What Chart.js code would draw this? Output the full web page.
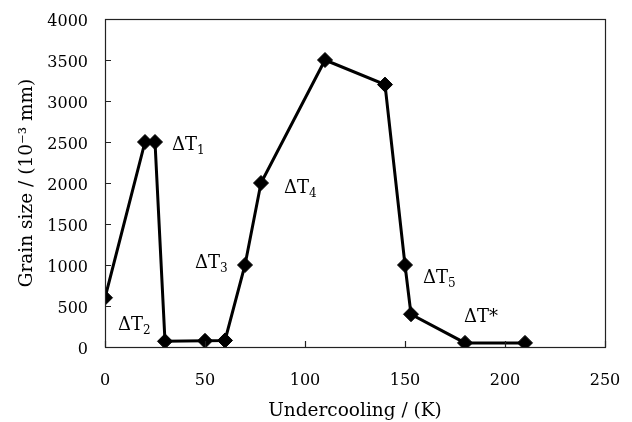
<!DOCTYPE html>
<html lang="en">
<head>
    <meta charset="UTF-8">
    <title>Grain size vs undercooling</title>
    <script src="https://cdn.jsdelivr.net/npm/chart.js"></script>
    <style>
        body { margin: 0; background: #fff; }
        canvas { display: block; }
    </style>
    <script>
        // measured points
        const undercooling = [0, 20, 25, 30, 50, 60, 70, 78, 110, 140, 150, 153, 180, 210];
        const grainSize = [600, 2500, 2500, 70, 75, 80, 1000, 2000, 3500, 3200, 1000, 400, 50, 50];

        // axis ticks
        const xTicks = [0, 50, 100, 150, 200, 250];
        const yTicks = [0, 500, 1000, 1500, 2000, 2500, 3000, 3500, 4000];

        // region labels (anchor in data units: left edge, text centre)
        const labelMain = ['ΔT', 'ΔT', 'ΔT', 'ΔT', 'ΔT', 'ΔT*'];
        const labelSub = ['1', '2', '3', '4', '5', ''];
        const labelX = [33.5, 6.5, 45, 89.5, 159, 179.5];
        const labelY = [2480, 290, 1040, 1960, 860, 380];

        const serif = '"DejaVu Serif", serif';

        // ticks pointing into the plot, plus the box round it
        const frame = {
            id: 'frame',
            afterDraw(chart) {
                const ctx = chart.ctx;
                const a = chart.chartArea;
                const xs = chart.scales.x, ys = chart.scales.y;
                ctx.save();
                ctx.strokeStyle = '#222';
                ctx.lineWidth = 1.2;
                ctx.strokeRect(a.left + 0.5, a.top + 0.5, a.right - a.left, a.bottom - a.top);
                ctx.beginPath();
                xTicks.forEach(v => {
                    const px = Math.round(xs.getPixelForValue(v)) + 0.5;
                    ctx.moveTo(px, a.bottom);
                    ctx.lineTo(px, a.bottom - 6);
                });
                yTicks.forEach(v => {
                    const py = Math.round(ys.getPixelForValue(v)) + 0.5;
                    ctx.moveTo(a.left, py);
                    ctx.lineTo(a.left + 6, py);
                });
                ctx.stroke();
                ctx.restore();
            },
            afterDatasetsDraw(chart) {
                const ctx = chart.ctx;
                const xs = chart.scales.x, ys = chart.scales.y;
                ctx.save();
                ctx.fillStyle = '#000';
                ctx.textAlign = 'left';
                ctx.textBaseline = 'alphabetic';
                labelMain.forEach((t, i) => {
                    const px = xs.getPixelForValue(labelX[i]);
                    const py = ys.getPixelForValue(labelY[i]) + 6.5;
                    ctx.font = '18px ' + serif;
                    ctx.fillText(t, px, py);
                    if (labelSub[i]) {
                        const w = ctx.measureText(t).width;
                        ctx.font = '12px ' + serif;
                        ctx.fillText(labelSub[i], px + w, py + 4);
                    }
                });
                ctx.restore();
            }
        };

        window.onload = function() {
            const ctx = document.getElementById('grainChart').getContext('2d');
            new Chart(ctx, {
                type: 'line',
                data: {
                    datasets: [{
                        data: undercooling.map((x, i) => ({ x: x, y: grainSize[i] })),
                        borderColor: '#000',
                        backgroundColor: '#000',
                        borderWidth: 3,
                        tension: 0,
                        pointStyle: 'rectRot',
                        pointRadius: 7.5,
                        pointBorderWidth: 1,
                        pointBorderColor: '#000',
                        pointBackgroundColor: '#000'
                    }]
                },
                options: {
                    responsive: false,
                    animation: false,
                    layout: { padding: { top: 19, right: 27, left: 0, bottom: 0 } },
                    plugins: {
                        legend: { display: false },
                        tooltip: { enabled: false }
                    },
                    scales: {
                        x: {
                            type: 'linear',
                            min: 0,
                            max: 250,
                            afterBuildTicks: s => { s.ticks = xTicks.map(v => ({ value: v })); },
                            afterFit: s => {
                                s.height = 75;
                                s.paddingLeft = 0;
                                s.paddingRight = 0;
                            },
                            grid: { display: false, drawTicks: false },
                            border: { display: false },
                            ticks: {
                                padding: 24,
                                color: '#000',
                                font: { family: serif, size: 16 },
                                callback: v => String(v)
                            },
                            title: {
                                display: true,
                                text: 'Undercooling / (K)',
                                color: '#000',
                                font: { family: serif, size: 18.5 },
                                padding: { top: 0, bottom: 0 }
                            }
                        },
                        y: {
                            min: 0,
                            max: 4000,
                            afterBuildTicks: s => { s.ticks = yTicks.map(v => ({ value: v })); },
                            afterFit: s => {
                                s.width = 105;
                                s.paddingTop = 0;
                                s.paddingBottom = 0;
                            },
                            grid: { display: false, drawTicks: false },
                            border: { display: false },
                            ticks: {
                                padding: 17,
                                labelOffset: 3,
                                color: '#000',
                                font: { family: serif, size: 16 },
                                callback: v => String(v)
                            },
                            title: {
                                display: true,
                                text: 'Grain size / (10⁻³ mm)',
                                color: '#000',
                                font: { family: serif, size: 18.5 },
                                padding: { top: 16, bottom: 0 }
                            }
                        }
                    }
                },
                plugins: [frame]
            });
        };
    </script>
</head>
<body>
    <canvas id="grainChart" width="632" height="422"></canvas>
</body>
</html>
